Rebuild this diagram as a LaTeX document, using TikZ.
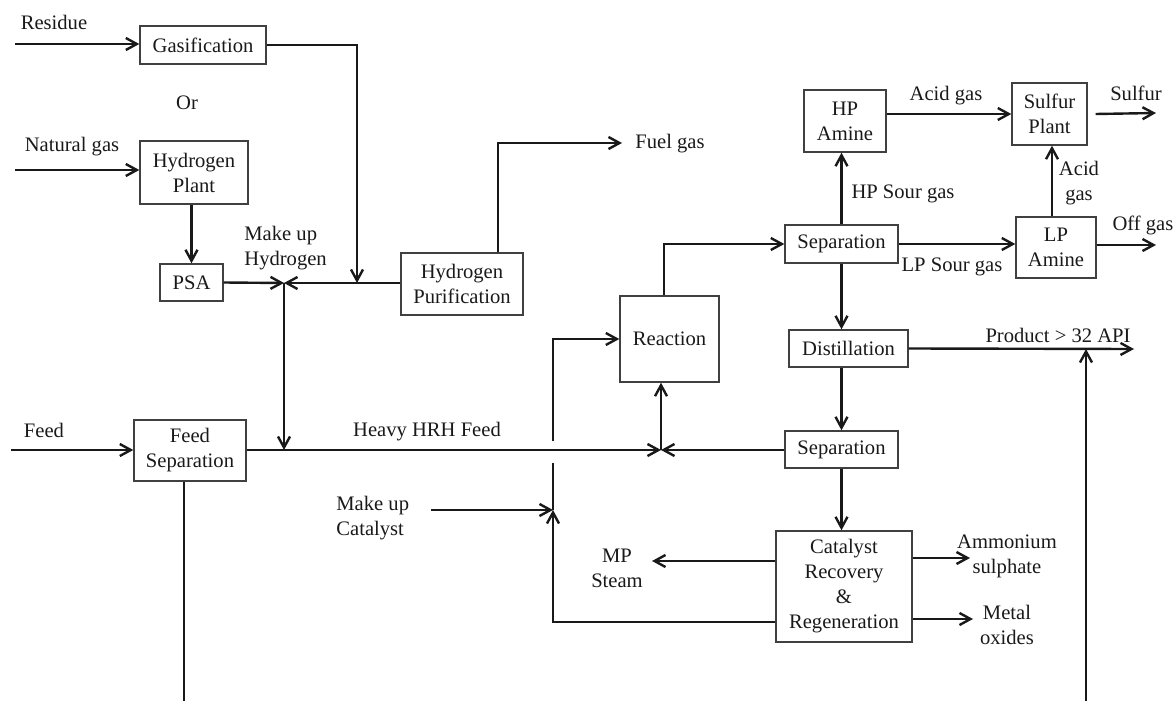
\documentclass[tikz,border=0pt]{standalone}
\usepackage{fontspec}
\setmainfont{Liberation Serif}
\usetikzlibrary{arrows.meta}

\begin{document}
\begin{tikzpicture}[x=0.5pt, y=-0.5pt,
    unit/.style={draw=black!75, line width=0.7pt, inner sep=0pt, align=center,
      text=black!90, font=\fontsize{10.3}{12.5}\selectfont},
    lbl/.style={inner sep=0pt, align=center, text=black!90,
      font=\fontsize{10.3}{12.5}\selectfont},
    pipe/.style={line width=1.2pt, draw=black!90},
    flow/.style={pipe, -{Straight Barb[length=5.5pt, width=6pt]}}]
  \useasboundingbox (0,0) rectangle (1174,701);

  % Units
  \node[unit, minimum width=63pt, minimum height=19pt] (gas) at (203,45) {Gasification};
  \node[unit, minimum width=54pt, minimum height=31.5pt] (hplant) at (194,172.5) {Hydrogen\\Plant};
  \node[unit, minimum width=31.5pt, minimum height=18.5pt] (psa) at (191.5,282.5) {PSA};
  \node[unit, minimum width=61pt, minimum height=31pt] (hpur) at (462,284) {Hydrogen\\Purification};
  \node[unit, minimum width=56pt, minimum height=30.5pt] (fsep) at (190,450.5) {Feed\\Separation};
  \node[unit, minimum width=49.5pt, minimum height=43pt] (react) at (669.5,339) {Reaction};
  \node[unit, minimum width=56.5pt, minimum height=19pt] (sepup) at (841.5,244) {Separation};
  \node[unit, minimum width=41pt, minimum height=31pt] (hpam) at (845,121) {HP\\Amine};
  \node[unit, minimum width=37.5pt, minimum height=31pt] (sulf) at (1049.5,114) {Sulfur\\Plant};
  \node[unit, minimum width=40pt, minimum height=30.5pt] (lpam) at (1056,247.5) {LP\\Amine};
  \node[unit, minimum width=59.5pt, minimum height=18.5pt] (dist) at (848.5,348.5) {Distillation};
  \node[unit, minimum width=56.5pt, minimum height=18.5pt] (seplow) at (841.5,449.5) {Separation};
  \node[unit, minimum width=68pt, minimum height=55.5pt] (catrec) at (844,586.5) {Catalyst\\Recovery\\\&\\Regeneration};

  % Labels
  \node[lbl] (residue) at (54,22) {Residue};
  \node[lbl] (or) at (187,103) {Or};
  \node[lbl] (natgas) at (72,147) {Natural gas};
  \node[lbl, align=left, anchor=west] (mkhyd) at (244,248.5) {Make up\\Hydrogen};
  \node[lbl] (feed) at (44,430) {Feed};
  \node[lbl] (heavy) at (427,432) {Heavy HRH Feed};
  \node[lbl, align=left, anchor=west] (mkcat) at (336,518.5) {Make up\\Catalyst};
  \node[lbl] (mpsteam) at (617,568) {MP\\Steam};
  \node[lbl] (fuelgas) at (670,144) {Fuel gas};
  \node[lbl] (acidtop) at (946,96) {Acid gas};
  \node[lbl] (sulfur) at (1136,93) {Sulfur};
  \node[lbl] (hpsour) at (903,194) {HP Sour gas};
  \node[lbl] (lpsour) at (952,267) {LP Sour gas};
  \node[lbl] (acidlp) at (1079,183.5) {Acid\\gas};
  \node[lbl] (offgas) at (1143,225) {Off gas};
  \node[lbl] (product) at (1058,335) {Product > 32 API};
  \node[lbl] (ammon) at (1007,556.5) {Ammonium\\sulphate};
  \node[lbl] (metal) at (1007,625) {Metal\\oxides};

  % Points
  \coordinate (resin) at (15,44);
  \coordinate (ngin) at (15,170);
  \coordinate (feedin) at (11,450);
  \coordinate (jhyd) at (284,283);
  \coordinate (gdrop) at (357,283);
  \coordinate (jfeed) at (661,450);
  \coordinate (jcat) at (553,510);
  \coordinate (catin) at (431,510);
  \coordinate (fuelend) at (622,143);
  \coordinate (sulfend) at (1156,113);
  \coordinate (offend) at (1156,245);
  \coordinate (prodend) at (1134,349);
  \coordinate (prodin) at (1086,701);
  \coordinate (fsepout) at (184,701);
  \coordinate (mpend) at (652,561);
  \coordinate (amend) at (970,558);
  \coordinate (meend) at (973,619);

  % Hydrogen side
  \draw[flow] (resin) -- (resin -| gas.west);
  \draw[flow] (ngin) -- (ngin -| hplant.west);
  \draw[flow] (gas.east) -| (gdrop);
  \draw[flow] (psa.north |- hplant.south) -- (psa.north);
  \draw[flow] (psa.east) -- (jhyd);
  \draw[flow] (hpur.west |- jhyd) -- (jhyd);
  \draw[flow] (jhyd) -- (jhyd |- jfeed);
  \draw[flow] ([xshift=18pt]hpur.north) |- (fuelend);

  % Feed and reaction
  \draw[flow] (feedin) -- (feedin -| fsep.west);
  \draw[pipe] (fsepout |- fsep.south) -- (fsepout);
  \draw[flow] (fsep.east |- jfeed) -- (jfeed);
  \draw[flow] (seplow.west |- jfeed) -- (jfeed);
  \draw[flow] (jfeed) -- (jfeed |- react.south);
  \draw[flow] ([xshift=-2.75pt]react.north) |- (sepup.west);

  % Gas treating
  \draw[flow] (sepup.north) -- (sepup.north |- hpam.south);
  \draw[flow] (hpam.east |- sulf.west) -- (sulf.west);
  \draw[flow] ([xshift=4pt]sulf.east) -- (sulfend);
  \draw[flow] (sepup.east) -- (sepup.east -| lpam.west);
  \draw[flow] ([xshift=-2pt]lpam.north) -- ([xshift=-2pt]lpam.north |- sulf.south);
  \draw[flow] (lpam.east |- offend) -- (offend);

  % Product and catalyst
  \draw[flow] (sepup.south) -- (sepup.south |- dist.north);
  \draw[flow] (dist.east) -- (prodend);
  \draw[flow] (prodin) -- (prodin |- prodend);
  \draw[flow] (seplow.north |- dist.south) -- (seplow.north);
  \draw[flow] (seplow.south) -- (seplow.south |- catrec.north);
  \draw[flow] (catrec.west |- mpend) -- (mpend);
  \draw[flow] (catrec.east |- amend) -- (amend);
  \draw[flow] (catrec.east |- meend) -- (meend);
  \draw[flow] (catrec.west |- 0,622) -| (jcat);
  \draw[flow] (catin) -- (jcat);
  \draw[pipe] (jcat) -- (553,463);
  \draw[flow] (553,441) |- (react.west);
\end{tikzpicture}
\end{document}
